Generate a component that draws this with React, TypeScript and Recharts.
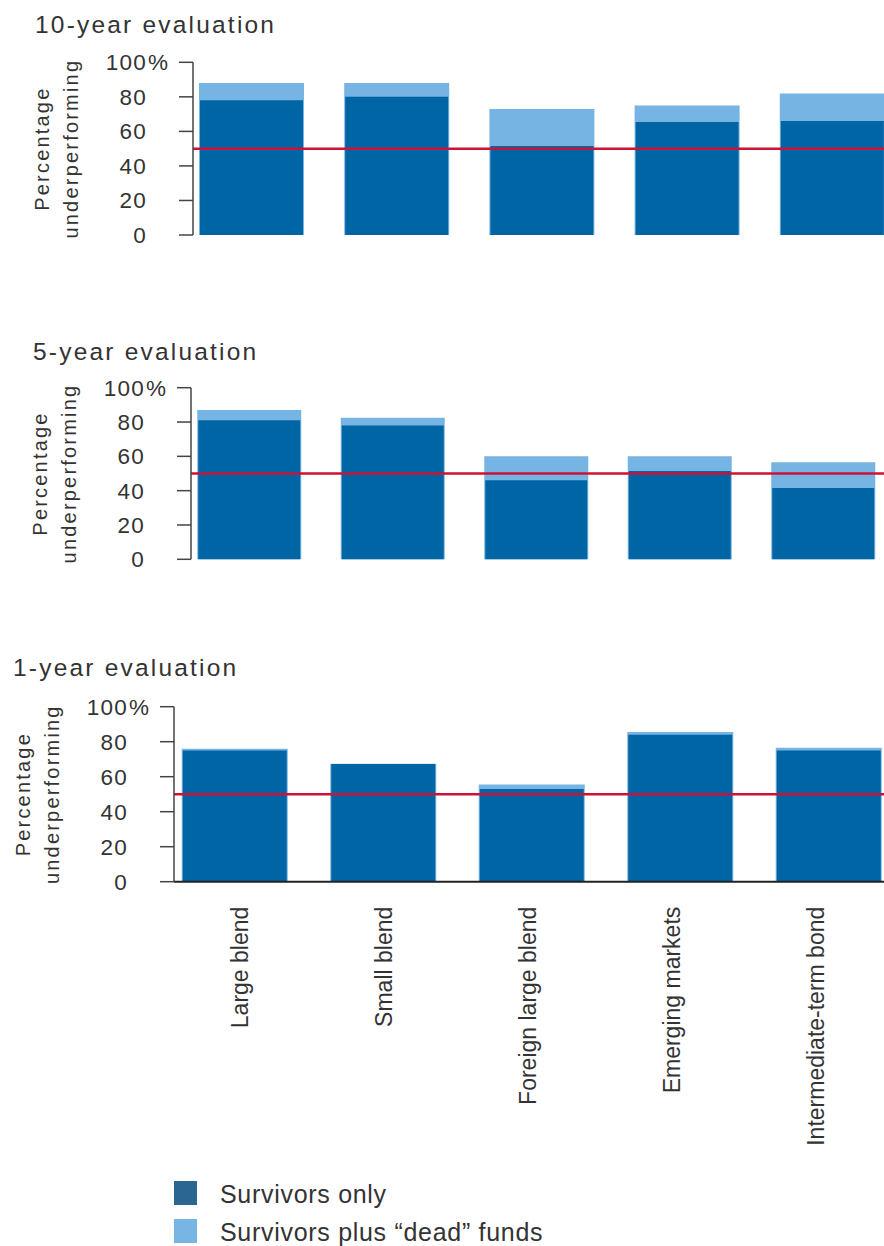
import React from "react";
import { Bar, BarChart, ReferenceLine, XAxis, YAxis } from "recharts";

const FONT = "'Liberation Sans', Arial, Helvetica, sans-serif";
const TEXT = "#333333";
const DARK = "#0065a4";
const LIGHT = "#76b4e3";
const RED = "#cc1236";

const categories = [
  "Large blend",
  "Small blend",
  "Foreign large blend",
  "Emerging markets",
  "Intermediate-term bond",
];

// share of funds underperforming, in percent
const survivors10 = [78, 80, 51.5, 65.5, 66];
const withDead10 = [88, 88, 73, 75, 82];
const survivors5 = [81, 78, 46, 51.5, 41.5];
const withDead5 = [87, 82.5, 60, 60, 56.5];
const survivors1 = [75, 67.2, 53, 84, 75];
const withDead1 = [76, 67.4, 55.5, 85.5, 76.5];

const yTicks = [0, 20, 40, 60, 80, 100];
const threshold = 50;

const legendItems = [
  { label: "Survivors only", color: "#2b6592" },
  { label: "Survivors plus \u201Cdead\u201D funds", color: "#77b5e5" },
];

const buildRows = (survivors: number[], withDead: number[]) =>
  categories.map((name, i) => ({
    name,
    survivors: survivors[i],
    withDead: withDead[i],
  }));

const PctTick = (props: any) => {
  const { x, y, payload } = props;
  return (
    <g>
      <text
        x={x}
        y={y}
        dy={8}
        textAnchor="end"
        fill={TEXT}
        fontSize={22.5}
        letterSpacing={1.2}
        fontFamily={FONT}
      >
        {payload.value}
      </text>
      {payload.value === 100 && (
        <text x={x + 1} y={y} dy={8} fill={TEXT} fontSize={22.5} fontFamily={FONT}>
          %
        </text>
      )}
    </g>
  );
};

const CategoryTick = (props: any) => {
  const { x, y, payload, index } = props;
  // labels sit a little tighter than the bars
  const bx = x + 13 - index * 4.6;
  const by = y + 17;
  return (
    <text
      x={bx}
      y={by}
      transform={`rotate(-90 ${bx} ${by})`}
      textAnchor="end"
      fill={TEXT}
      fontSize={23}
      fontFamily={FONT}
    >
      {payload.value}
    </text>
  );
};

const AxisTitle = (props: any) => {
  const { viewBox } = props;
  const right = viewBox.x + viewBox.width;
  const cy = viewBox.y + viewBox.height / 2;
  const lines = [
    { text: "Percentage", x: right - 144 },
    { text: "underperforming", x: right - 115 },
  ];
  return (
    <g>
      {lines.map((l) => (
        <text
          key={l.text}
          x={l.x}
          y={cy}
          transform={`rotate(-90 ${l.x} ${cy})`}
          textAnchor="middle"
          fill={TEXT}
          fontSize={20}
          letterSpacing={2.2}
          fontFamily={FONT}
        >
          {l.text}
        </text>
      ))}
    </g>
  );
};

interface PanelProps {
  top: number;
  height: number;
  marginTop: number;
  marginBottom: number;
  axisWidth: number;
  padLeft: number;
  padRight: number;
  barSize: number;
  survivors: number[];
  withDead: number[];
  showCategories?: boolean;
  xAxisHeight?: number;
}

function Panel({
  top,
  height,
  marginTop,
  marginBottom,
  axisWidth,
  padLeft,
  padRight,
  barSize,
  survivors,
  withDead,
  showCategories = false,
  xAxisHeight = 0,
}: PanelProps) {
  const data = buildRows(survivors, withDead);
  const padding = { left: padLeft, right: padRight };
  return (
    <div style={{ position: "absolute", left: 0, top }}>
      <BarChart
        width={884}
        height={height}
        data={data}
        margin={{ top: marginTop, right: 0, bottom: marginBottom, left: 0 }}
      >
        <XAxis
          xAxisId="main"
          dataKey="name"
          padding={padding}
          height={xAxisHeight}
          axisLine={{ stroke: "#222", strokeWidth: 2 }}
          tickLine={false}
          tick={showCategories ? <CategoryTick /> : false}
          interval={0}
        />
        <XAxis xAxisId="total" dataKey="name" padding={padding} hide />
        <YAxis
          xAxisId="main"
          width={axisWidth}
          domain={[0, 100]}
          ticks={yTicks}
          tickSize={14}
          tickMargin={32}
          axisLine={{ stroke: "#444", strokeWidth: 1.5 }}
          tickLine={{ stroke: "#444", strokeWidth: 1.5 }}
          tick={<PctTick />}
          label={{ content: <AxisTitle /> }}
        />
        <Bar
          xAxisId="total"
          dataKey="withDead"
          name="Survivors plus dead funds"
          fill={LIGHT}
          barSize={barSize + 2}
          isAnimationActive={false}
        />
        <Bar
          xAxisId="main"
          dataKey="survivors"
          name="Survivors only"
          fill={DARK}
          barSize={barSize}
          isAnimationActive={false}
        />
        <ReferenceLine xAxisId="main" y={threshold} stroke={RED} strokeWidth={2.5} />
      </BarChart>
    </div>
  );
}

const titles = [
  { text: "10-year evaluation", x: 35, y: 33 },
  { text: "5-year evaluation", x: 33, y: 360 },
  { text: "1-year evaluation", x: 13, y: 676 },
];

export default function App() {
  return (
    <div
      style={{
        position: "relative",
        width: 884,
        height: 1246,
        overflow: "hidden",
        background: "#fff",
        fontFamily: FONT,
      }}
    >
      <style>{"body { margin: 0; }"}</style>
      <svg
        width={884}
        height={1246}
        style={{ position: "absolute", left: 0, top: 0 }}
      >
        {titles.map((t) => (
          <text
            key={t.text}
            x={t.x}
            y={t.y}
            fill={TEXT}
            fontSize={24.5}
            letterSpacing={2.2}
            fontFamily={FONT}
          >
            {t.text}
          </text>
        ))}
        {legendItems.map((item, i) => (
          <g key={item.label}>
            <rect x={174} y={1181 + i * 38} width={23} height={24} fill={item.color} />
            <text
              x={220}
              y={1203 + i * 38}
              fill={TEXT}
              fontSize={25}
              letterSpacing={0.7}
              fontFamily={FONT}
            >
              {item.label}
            </text>
          </g>
        ))}
      </svg>
      <Panel
        top={0}
        height={260}
        marginTop={62.3}
        marginBottom={25}
        axisWidth={193}
        padLeft={-14}
        padRight={-21}
        barSize={103}
        survivors={survivors10}
        withDead={withDead10}
      />
      <Panel
        top={320}
        height={265}
        marginTop={67.7}
        marginBottom={25.7}
        axisWidth={191}
        padLeft={-13.75}
        padRight={-10.75}
        barSize={102}
        survivors={survivors5}
        withDead={withDead5}
      />
      <Panel
        top={640}
        height={520}
        marginTop={66.7}
        marginBottom={0}
        axisWidth={174}
        padLeft={-13.25}
        padRight={-19.25}
        barSize={104}
        survivors={survivors1}
        withDead={withDead1}
        showCategories
        xAxisHeight={278.3}
      />
    </div>
  );
}
